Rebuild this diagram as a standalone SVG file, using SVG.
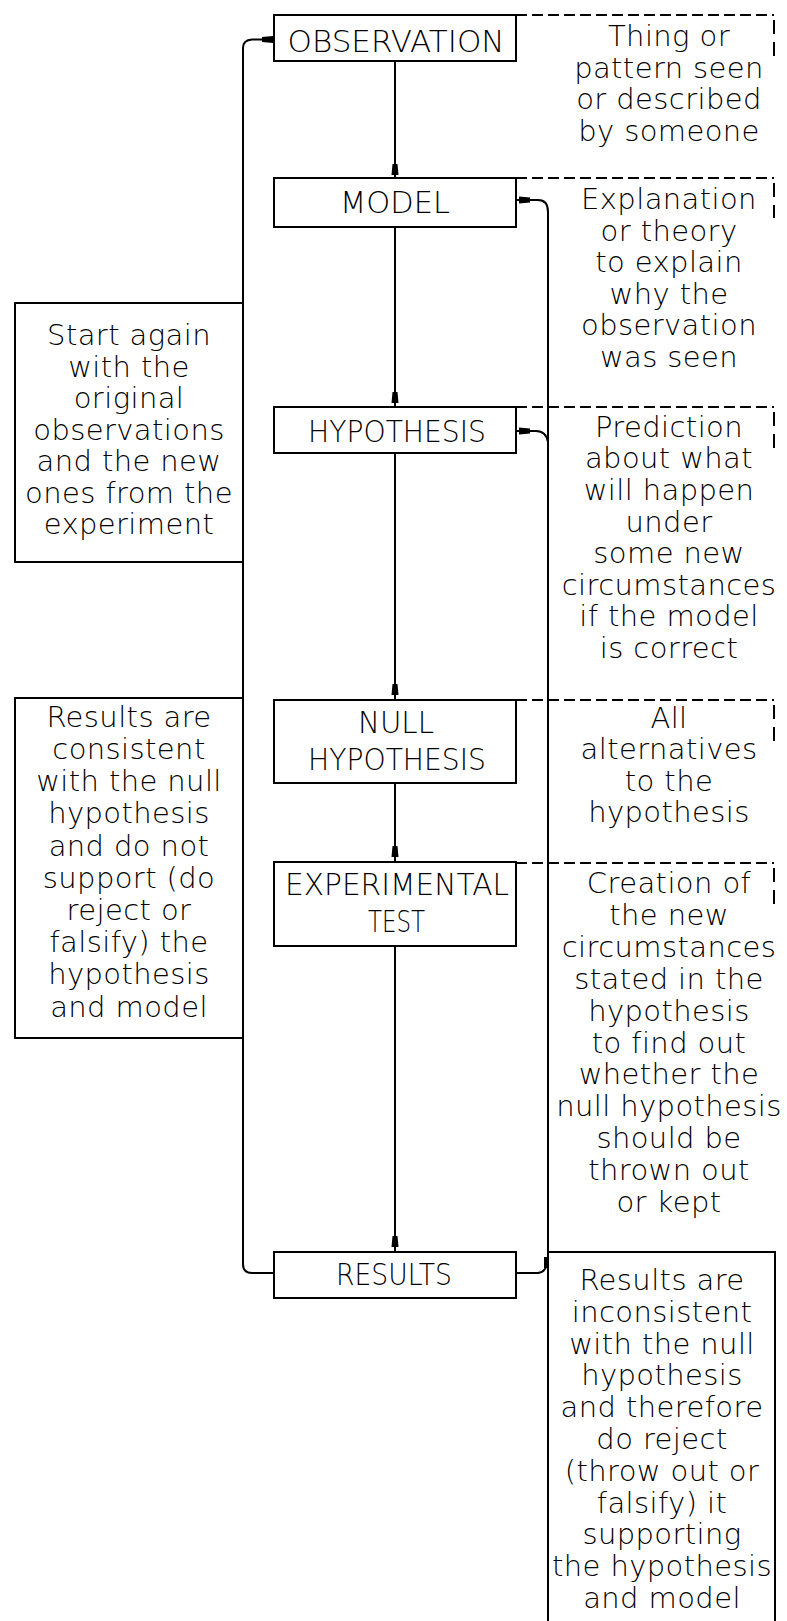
<svg xmlns="http://www.w3.org/2000/svg" xmlns:xlink="http://www.w3.org/1999/xlink" width="787" height="1621" viewBox="0 0 787 1621">
<style>
.box{fill:#fff;stroke:#000;stroke-width:2}
.ln{fill:none;stroke:#000;stroke-width:2}
.dh{fill:none;stroke:#000;stroke-width:2;stroke-dasharray:11 5}
.dv{fill:none;stroke:#000;stroke-width:2;stroke-dasharray:14 8}
text{font-family:"DejaVu Sans","Liberation Sans",sans-serif;font-size:29px;letter-spacing:0.4px;font-weight:200;fill:#000;text-anchor:middle}
text.lbl{font-size:30px;letter-spacing:0}
.ah{fill:#000}
</style>
<defs>
<path id="ad" d="M-2.5,-11 L2.5,-11 L3.5,0 L-3.5,0 Z"/>
<path id="al" d="M0,-3.5 L0,3.5 L11,2.5 L11,-2.5 Z"/>
<path id="ar" d="M0,-3.5 L0,3.5 L-11,2.5 L-11,-2.5 Z"/>
</defs>
<g id="connectors">
<line class="ln" x1="395" y1="61" x2="395" y2="178"/>
<line class="ln" x1="395" y1="227" x2="395" y2="407"/>
<line class="ln" x1="395" y1="453" x2="395" y2="700"/>
<line class="ln" x1="395" y1="783" x2="395" y2="862"/>
<line class="ln" x1="395" y1="946" x2="395" y2="1252"/>
<use class="ah" xlink:href="#ad" x="395" y="175"/>
<use class="ah" xlink:href="#ad" x="395" y="403"/>
<use class="ah" xlink:href="#ad" x="395" y="695"/>
<use class="ah" xlink:href="#ad" x="395" y="857"/>
<use class="ah" xlink:href="#ad" x="395" y="1247"/>
<path class="ln" d="M274,1273 L252,1273 Q243,1273 243,1264 L243,48 Q243,40 252,39.5 L274,39.5"/>
<use class="ah" xlink:href="#ar" x="273" y="39.5"/>
<path class="ln" d="M548,1262 L548,212 Q548,200 538,200 L516,200"/>
<use class="ah" xlink:href="#al" x="519" y="200"/>
<path class="ln" d="M548,442 Q546,431 536,431 L516,431"/>
<use class="ah" xlink:href="#al" x="519" y="431"/>
<path class="ln" d="M516,1273 L538,1273 Q546,1272 547,1263"/>
<rect class="ah" x="544" y="1257" width="4" height="11"/>
</g>
<g id="observation">
<rect class="box" x="274" y="15" width="242" height="46"/>
<text class="lbl" x="396" y="52" textLength="217" lengthAdjust="spacingAndGlyphs">OBSERVATION</text>
<path class="dh" d="M516,15 H774"/>
<path class="dv" d="M774,20 V56"/>
<text x="669" y="46">Thing or</text>
<text x="669" y="77.5">pattern seen</text>
<text x="669" y="109">or described</text>
<text x="669" y="140.5">by someone</text>
</g>
<g id="model">
<rect class="box" x="274" y="178" width="242" height="49"/>
<text class="lbl" x="395" y="213" textLength="110" lengthAdjust="spacingAndGlyphs">MODEL</text>
<path class="dh" d="M516,178 H774"/>
<path class="dv" d="M774,183 V218"/>
<text x="669" y="209">Explanation</text>
<text x="669" y="240.6">or theory</text>
<text x="669" y="272.2">to explain</text>
<text x="669" y="303.8">why the</text>
<text x="669" y="335.4">observation</text>
<text x="669" y="367">was seen</text>
</g>
<g id="hypothesis">
<rect class="box" x="274" y="407" width="242" height="46"/>
<text class="lbl" x="397" y="442" textLength="178" lengthAdjust="spacingAndGlyphs">HYPOTHESIS</text>
<path class="dh" d="M516,407 H774"/>
<path class="dv" d="M774,412 V448"/>
<text x="669" y="436.7">Prediction</text>
<text x="669" y="468.3">about what</text>
<text x="669" y="499.9">will happen</text>
<text x="669" y="531.5">under</text>
<text x="669" y="563.1">some new</text>
<text x="669" y="594.7">circumstances</text>
<text x="669" y="626.3">if the model</text>
<text x="669" y="658">is correct</text>
</g>
<g id="null-hypothesis">
<rect class="box" x="274" y="700" width="242" height="83"/>
<text class="lbl" x="396" y="732.7" textLength="76" lengthAdjust="spacingAndGlyphs">NULL</text>
<text class="lbl" x="397" y="770" textLength="178" lengthAdjust="spacingAndGlyphs">HYPOTHESIS</text>
<path class="dh" d="M516,700 H774"/>
<path class="dv" d="M774,705 V742"/>
<text x="669" y="727.5">All</text>
<text x="669" y="759">alternatives</text>
<text x="669" y="790.5">to the</text>
<text x="669" y="822">hypothesis</text>
</g>
<g id="experimental-test">
<rect class="box" x="274" y="862" width="242" height="84"/>
<text class="lbl" x="397" y="895" textLength="224" lengthAdjust="spacingAndGlyphs">EXPERIMENTAL</text>
<text class="lbl" x="396.5" y="931.7" textLength="57" lengthAdjust="spacingAndGlyphs">TEST</text>
<path class="dh" d="M516,863 H774"/>
<path class="dv" d="M774,868 V904"/>
<text x="669" y="893.3">Creation of</text>
<text x="669" y="925.1">the new</text>
<text x="669" y="957">circumstances</text>
<text x="669" y="988.8">stated in the</text>
<text x="669" y="1020.7">hypothesis</text>
<text x="669" y="1052.5">to find out</text>
<text x="669" y="1084.3">whether the</text>
<text x="669" y="1116.2">null hypothesis</text>
<text x="669" y="1148">should be</text>
<text x="669" y="1179.9">thrown out</text>
<text x="669" y="1211.7">or kept</text>
</g>
<g id="results">
<rect class="box" x="274" y="1252" width="242" height="46"/>
<text class="lbl" x="394" y="1285" textLength="116" lengthAdjust="spacingAndGlyphs">RESULTS</text>
</g>
<g id="start-again">
<rect class="box" x="15" y="303" width="228" height="259"/>
<text x="129" y="345">Start again</text>
<text x="129" y="376.5">with the</text>
<text x="129" y="408">original</text>
<text x="129" y="439.5">observations</text>
<text x="129" y="471">and the new</text>
<text x="129" y="502.5">ones from the</text>
<text x="129" y="534">experiment</text>
</g>
<g id="consistent">
<rect class="box" x="15" y="698" width="228" height="340"/>
<text x="129" y="726.7">Results are</text>
<text x="129" y="758.9">consistent</text>
<text x="129" y="791.1">with the null</text>
<text x="129" y="823.3">hypothesis</text>
<text x="129" y="855.5">and do not</text>
<text x="129" y="887.7">support (do</text>
<text x="129" y="919.9">reject or</text>
<text x="129" y="952.1">falsify) the</text>
<text x="129" y="984.3">hypothesis</text>
<text x="129" y="1016.5">and model</text>
</g>
<g id="inconsistent">
<rect class="box" x="548" y="1252" width="227" height="400"/>
<text x="662" y="1290">Results are</text>
<text x="662" y="1321.8">inconsistent</text>
<text x="662" y="1353.6">with the null</text>
<text x="662" y="1385.4">hypothesis</text>
<text x="662" y="1417.2">and therefore</text>
<text x="662" y="1449">do reject</text>
<text x="662" y="1480.8">(throw out or</text>
<text x="662" y="1512.6">falsify) it</text>
<text x="662" y="1544.4">supporting</text>
<text x="662" y="1576.2">the hypothesis</text>
<text x="662" y="1608">and model</text>
</g>
</svg>
